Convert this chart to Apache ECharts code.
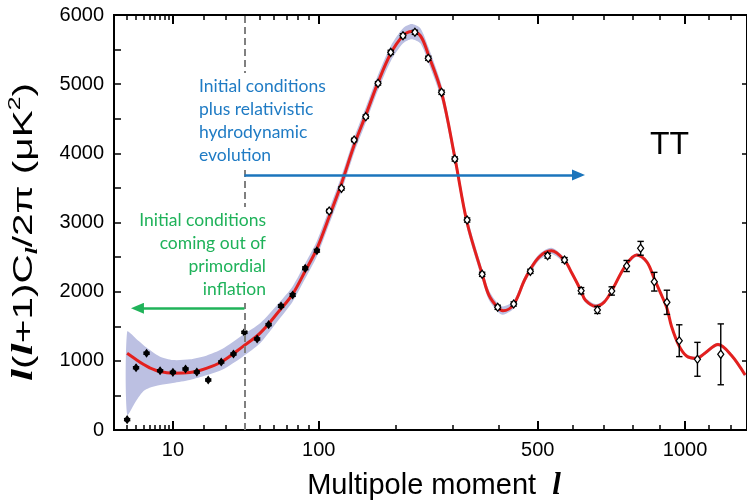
<!DOCTYPE html>
<html><head><meta charset="utf-8">
<script src="https://cdn.jsdelivr.net/npm/echarts@6/dist/echarts.min.js"></script>
<style>html,body{margin:0;padding:0;background:#fff}#c{width:747px;height:502px}</style>
</head><body><div id="c"></div>
<script>
// ---- theory curve (multipole l, D_l in uK^2) ----
const curveL = [2,3,4,5,7,10,15,21,28,39,50,64,75,87,98,111,125,141,156,173,192,211,225,240,254,279,305,330,363,378,398,411,437,467,502,538,576,598,626,639,672,700,725,772,813,850,878,900,927,945,975,1006,1047,1083,1141,1201,1265];
const curveV = [1110,1020,950,900,845,822,830,890,990,1205,1400,1720,1960,2310,2620,3080,3560,4130,4560,5030,5450,5700,5760,5700,5430,4870,3930,3000,2250,1950,1775,1725,1810,2190,2490,2590,2450,2265,2010,1880,1790,1850,2010,2370,2530,2430,2190,2000,1760,1500,1220,1070,1036,1110,1235,1080,795];
// ---- uncertainty band (same l grid) ----
const bandHi = [1420,1320,1230,1160,1060,1012,1022,1075,1170,1373,1542,1840,2070,2420,2730,3190,3670,4240,4670,5140,5560,5810,5870,5810,5540,4975,4030,3090,2330,2020,1835,1785,1865,2240,2535,2635,2490,2300,2045,1915,1820,1880,2040,2400,2555,2455,2215,2025,1785,1525,1245,1095,1060,1135,1260,1105,820];
const bandLo = [220,420,560,610,650,680,723,790,870,1060,1253,1600,1850,2200,2510,2970,3450,4020,4450,4920,5340,5590,5650,5590,5320,4765,3830,2910,2170,1880,1715,1665,1755,2140,2445,2545,2410,2230,1975,1845,1760,1820,1980,2340,2505,2405,2165,1975,1735,1475,1195,1045,1012,1085,1210,1055,770];
// ---- measured band powers ----
const pointL = [2,3,4.5,7,10,13.6,17.4,21.8,27.6,33.8,40,48,56,65.5,75.2,86.6,98.1,111.1,125.1,140.6,155.8,172.8,191.6,210.8,230.6,254,278.7,304.7,330.1,362.7,398.5,437.4,480.3,527.2,575.8,626.1,677.8,725.3,777,827.2,878.2,927,976.2,1051.5,1153];
const pointV = [150,900,1110,857,834,882,838,723,983,1099,1412,1316,1523,1793,1952,2338,2592,3166,3494,4193,4530,5012,5460,5700,5750,5374,4882,3918,3036,2251,1774,1822,2294,2520,2458,2014,1735,2010,2371,2627,2144,1846,1291,1022,1094];
const pointErr = [15,15,15,15,15,15,15,15,15,15,15,15,15,20,20,20,20,25,25,25,25,25,30,30,30,30,30,30,30,30,30,30,30,35,35,45,50,60,80,100,135,175,230,245,440];
// ---- axis ticks ----
const xLabelL = [10,100,500,1000];
const xMinorL = [2,3,4,5,6,7,8,9,20,30,40,50,60,70,80,90,200,300,400,600,700,800,900,1100,1200];
const yMin = 0, yMax = 6000, yTickStep = 500, yLabelStep = 1000;
// ---- annotations (data coordinates) ----
const dashL = 40;
const blueArrow = {fromL: 40, toL: 618, v: 3687};
const greenArrow = {fromL: 40, toL: 3.18, v: 1760};
const lRange = [0.945, 1260];   // axis ends in l

const P = 0.4;                         // x axis drawn on an l^0.4 scale
const tf = l => Math.pow(l, P);
const inv = t => Math.pow(t, 1 / P);
const T_MIN = tf(lRange[0]), T_MAX = 17.461;

const chart = echarts.init(document.getElementById('c'));
const black = '#000';
const baseX = {
  type: 'value', min: T_MIN, max: T_MAX, splitLine: {show: false},
  axisLine: {show: true, onZero: false, lineStyle: {color: black, width: 2}}
};
const majorTick = {inside: true, length: 9, customValues: xLabelL.map(tf), lineStyle: {color: black, width: 2}};
const minorTick = {inside: true, length: 5, customValues: xMinorL.map(tf), lineStyle: {color: black, width: 1.5}};

const ptsData = pointL.map((l, i) => [tf(l), pointV[i], pointErr[i], l]);
const curveData = curveL.map((l, i) => [tf(l), curveV[i]]);

const lineCol = (c, w, extra) => Object.assign({color: c, width: w, type: 'solid'}, extra || {});

chart.setOption({
  animation: false,
  grid: {left: 114, right: -2, top: 15, bottom: 72},
  xAxis: [
    Object.assign({}, baseX, {position: 'bottom', axisTick: majorTick,
      axisLabel: {customValues: xLabelL.map(tf), formatter: v => String(Math.round(inv(v))),
        fontSize: 20, fontFamily: 'Liberation Sans', color: black, margin: 10}}),
    Object.assign({}, baseX, {position: 'bottom', axisTick: minorTick, axisLabel: {show: false}}),
    Object.assign({}, baseX, {position: 'top', axisTick: majorTick, axisLabel: {show: false}}),
    Object.assign({}, baseX, {position: 'top', axisTick: minorTick, axisLabel: {show: false}})
  ],
  yAxis: [
    {type: 'value', min: yMin, max: yMax, interval: yTickStep, position: 'left', splitLine: {show: false},
      axisLine: {show: true, onZero: false, lineStyle: {color: black, width: 2}},
      axisTick: {inside: true, length: 7, lineStyle: {color: black, width: 1.5}},
      axisLabel: {formatter: v => (v % yLabelStep === 0 ? String(v) : ''), fontSize: 20,
        fontFamily: 'Liberation Sans', color: black, margin: 10}},
    {type: 'value', min: yMin, max: yMax, interval: yLabelStep, position: 'right', splitLine: {show: false},
      axisLine: {show: true, onZero: false, lineStyle: {color: black, width: 2}},
      axisTick: {inside: true, length: 5, lineStyle: {color: black, width: 1.5}},
      axisLabel: {show: false}}
  ],
  series: [
    {
      type: 'custom', name: 'band', z: 1, silent: true,
      data: [[curveData[0][0], bandHi[0]]],
      renderItem: function (params, api) {
        const pts = [];
        for (let i = 0; i < curveL.length; i++) pts.push(api.coord([tf(curveL[i]), bandHi[i]]));
        for (let i = curveL.length - 1; i >= 0; i--) pts.push(api.coord([tf(curveL[i]), bandLo[i]]));
        return {type: 'polygon', shape: {points: pts, smooth: 0.25}, style: {fill: '#bcc0e2'}};
      }
    },
    {
      type: 'line', name: 'theory', z: 2, data: curveData, smooth: 0.35, showSymbol: false, symbol: 'none',
      lineStyle: {color: '#e3201e', width: 3},
      markLine: {
        silent: true, animation: false, label: {show: false}, symbol: ['none', 'none'],
        data: [
          {xAxis: tf(dashL), lineStyle: lineCol('#808080', 2, {type: [7, 4]})},
          [{coord: [tf(blueArrow.fromL), blueArrow.v], symbol: 'none', lineStyle: lineCol('#1b75bc', 2.5)},
           {coord: [tf(blueArrow.toL), blueArrow.v], symbol: 'triangle', symbolSize: [11, 13], lineStyle: lineCol('#1b75bc', 2.5)}],
          [{coord: [tf(greenArrow.fromL), greenArrow.v], symbol: 'none', lineStyle: lineCol('#20b35a', 2.5)},
           {coord: [tf(greenArrow.toL), greenArrow.v], symbol: 'triangle', symbolSize: [11, 13], lineStyle: lineCol('#20b35a', 2.5)}]
        ]
      }
    },
    {
      type: 'custom', name: 'errors', z: 3, silent: true, data: ptsData,
      encode: {x: 0, y: 1},
      renderItem: function (params, api) {
        const t = api.value(0), v = api.value(1), e = api.value(2);
        const a = api.coord([t, v + e]), b = api.coord([t, v - e]);
        const c = 3.2, st = {stroke: black, lineWidth: 1.4};
        return {type: 'group', children: [
          {type: 'line', shape: {x1: a[0], y1: a[1], x2: b[0], y2: b[1]}, style: st},
          {type: 'line', shape: {x1: a[0] - c, y1: a[1], x2: a[0] + c, y2: a[1]}, style: st},
          {type: 'line', shape: {x1: b[0] - c, y1: b[1], x2: b[0] + c, y2: b[1]}, style: st}
        ]};
      }
    },
    {
      type: 'scatter', name: 'data', z: 4, silent: true, data: ptsData, encode: {x: 0, y: 1},
      symbol: 'diamond', symbolSize: p => (p[3] < 100 ? [5, 7] : [6, 8]),
      itemStyle: {color: p => (p.data[3] < 100 ? black : '#fff'), borderColor: black, borderWidth: 1.3, opacity: 1}
    }
  ],
  graphic: [
    {type: 'text', z: 100, x: 24, y: 232, rotation: Math.PI / 2, scaleX: 1.45,
      style: {text: '{i|l}{n|(}{i|l}{n|+1)C}{s|l}{n|/2π (μK}{p|2}{n|)}', align: 'center', verticalAlign: 'middle',
        rich: {
          n: {fontSize: 28, fontFamily: 'Liberation Sans', fill: black, lineHeight: 34, verticalAlign: 'middle'},
          i: {fontSize: 30, fontFamily: 'Liberation Serif', fontStyle: 'italic', fontWeight: 'bold', fill: black, lineHeight: 34, verticalAlign: 'middle'},
          s: {fontSize: 17, fontFamily: 'Liberation Serif', fontStyle: 'italic', fontWeight: 'bold', fill: black, lineHeight: 17, verticalAlign: 'bottom'},
          p: {fontSize: 17, fontFamily: 'Liberation Sans', fill: black, lineHeight: 17, verticalAlign: 'top'}
        }}},
    {type: 'text', z: 100, x: 434, y: 486,
      style: {text: '{n|Multipole moment  }{i|l}', align: 'center', verticalAlign: 'middle',
        rich: {
          n: {fontSize: 29, fontFamily: 'Liberation Sans', fill: black, lineHeight: 34, verticalAlign: 'middle'},
          i: {fontSize: 31, fontFamily: 'Liberation Serif', fontStyle: 'italic', fontWeight: 'bold', fill: black, lineHeight: 34, verticalAlign: 'middle'}
        }}},
    {type: 'text', z: 100, x: 195, y: 73,
      style: {text: 'Initial conditions\nplus relativistic\nhydrodynamic\nevolution', fontSize: 17.5, fontFamily: 'Lato',
        fill: '#1f7bc4', lineHeight: 23, backgroundColor: '#fff', padding: [2, 4], align: 'left', verticalAlign: 'top'}},
    {type: 'text', z: 100, x: 270, y: 207,
      style: {text: 'Initial conditions\ncoming out of\nprimordial\ninflation', fontSize: 17.5, fontFamily: 'Lato',
        fill: '#1fb25a', lineHeight: 23, backgroundColor: '#fff', padding: [2, 4], align: 'right', verticalAlign: 'top'}},
    {type: 'text', z: 100, x: 669.5, y: 145,
      style: {text: 'TT', fontSize: 32, fontFamily: 'Liberation Sans', fill: black, align: 'center', verticalAlign: 'middle'}}
  ]
});
</script>
</body></html>
